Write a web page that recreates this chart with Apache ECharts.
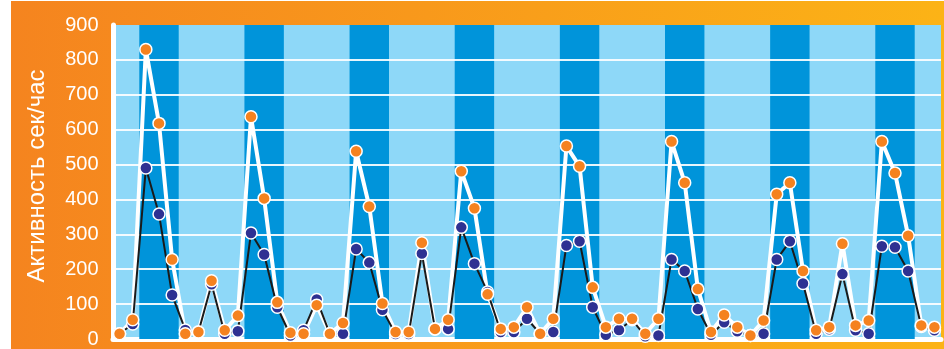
<!DOCTYPE html>
<html>
<head>
<meta charset="utf-8">
<script src="https://cdn.jsdelivr.net/npm/echarts@6/dist/echarts.min.js"></script>
<style>
    html, body { margin: 0; padding: 0; background: #fff; }
    #chart-pane { width: 944px; height: 349px; }
</style>
</head>
<body>
<div id="chart-pane"></div>
<script>
// 3-hour slots, 63 in total
var activeValues = [15, 55, 830, 618, 228, 15, 20, 167, 25, 67,
    637, 403, 105, 18, 15, 97, 15, 46, 538, 380,
    102, 20, 20, 276, 29, 55, 481, 375, 128, 29,
    34, 91, 15, 58, 553, 495, 148, 34, 58, 58,
    15, 58, 566, 448, 143, 20, 69, 34, 10, 53,
    415, 448, 195, 25, 34, 273, 39, 53, 566, 476,
    296, 39, 34];
var restValues = [15, 43, 490, 358, 126, 26, 20, 157, 15, 22,
    304, 242, 91, 10, 25, 113, 15, 15, 258, 219,
    84, 14, 14, 245, 29, 29, 320, 216, 135, 20,
    20, 58, 15, 20, 268, 280, 91, 12, 26, 55,
    8, 10, 228, 195, 86, 12, 48, 22, 10, 15,
    228, 280, 159, 15, 28, 186, 25, 15, 266, 263,
    195, 36, 25];
// first slot of each night (3 slots long)
var nightStarts = [2, 10, 18, 26, 34, 42, 50, 58];
var nightLength = 3;
var yTicks = [0, 100, 200, 300, 400, 500, 600, 700, 800, 900];
var yName = 'Активность сек/час';

var fontName = '"Liberation Sans", Arial, sans-serif';

function toPoints(values) {
    return values.map(function (v, i) { return [i + 0.5, v]; });
}

var nightAreas = nightStarts.map(function (s) {
    return [{ xAxis: s }, { xAxis: s + nightLength }];
});

var chart = echarts.init(document.getElementById('chart-pane'));
var option = {
    animation: false,
    graphic: [
        {
            type: 'rect',
            z: -10,
            silent: true,
            shape: { x: 11, y: 1, width: 933, height: 348 },
            style: {
                fill: new echarts.graphic.LinearGradient(0, 0, 1, 0, [
                    { offset: 0, color: '#F5841F' },
                    { offset: 1, color: '#FCB316' }
                ])
            }
        },
        {
            type: 'text',
            x: 37,
            y: 176,
            rotation: Math.PI / 2,
            style: {
                text: yName,
                fill: '#fff',
                font: '24px ' + fontName,
                align: 'center',
                verticalAlign: 'middle'
            }
        }
    ],
    grid: {
        left: 113,
        right: 3,
        top: 25,
        bottom: 7,
        show: true,
        borderWidth: 0,
        backgroundColor: '#8ED8F8'
    },
    xAxis: {
        type: 'value',
        min: 0,
        max: activeValues.length,
        offset: 2.5,
        axisLine: { show: true, lineStyle: { color: '#fff', width: 5 } },
        axisTick: { show: false },
        axisLabel: { show: false },
        splitLine: { show: false }
    },
    yAxis: {
        type: 'value',
        min: yTicks[0],
        max: yTicks[yTicks.length - 1],
        interval: yTicks[1] - yTicks[0],
        offset: 2.5,
        z: 1.5,
        axisLine: { show: true, lineStyle: { color: '#fff', width: 5 } },
        axisTick: { show: false },
        axisLabel: {
            color: '#fff',
            fontSize: 20,
            fontFamily: fontName,
            margin: 12,
            padding: [0, 0, 6, 0]
        },
        splitLine: {
            show: true,
            showMinLine: false,
            showMaxLine: false,
            lineStyle: { color: 'rgba(255,255,255,0.9)', width: 2 }
        }
    },
    series: [
        {
            // night bands
            type: 'line',
            z: 1,
            silent: true,
            showSymbol: false,
            lineStyle: { opacity: 0 },
            data: toPoints(activeValues),
            markArea: {
                silent: true,
                itemStyle: { color: '#0094DA' },
                data: nightAreas
            }
        },
        {
            name: 'active line',
            type: 'line',
            z: 2,
            showSymbol: false,
            lineStyle: { color: '#fff', width: 4 },
            data: toPoints(activeValues)
        },
        {
            name: 'rest',
            type: 'line',
            z: 3,
            symbol: 'circle',
            symbolSize: 12,
            lineStyle: { color: '#1a1a1a', width: 2 },
            itemStyle: { color: '#2E3192', borderColor: '#fff', borderWidth: 1.5 },
            data: toPoints(restValues)
        },
        {
            name: 'active',
            type: 'scatter',
            z: 4,
            symbol: 'circle',
            symbolSize: 12,
            itemStyle: { color: '#F5821F', borderColor: '#fff', borderWidth: 1.5, opacity: 1 },
            data: toPoints(activeValues)
        }
    ]
};

chart.setOption(option);
</script>
</body>
</html>
